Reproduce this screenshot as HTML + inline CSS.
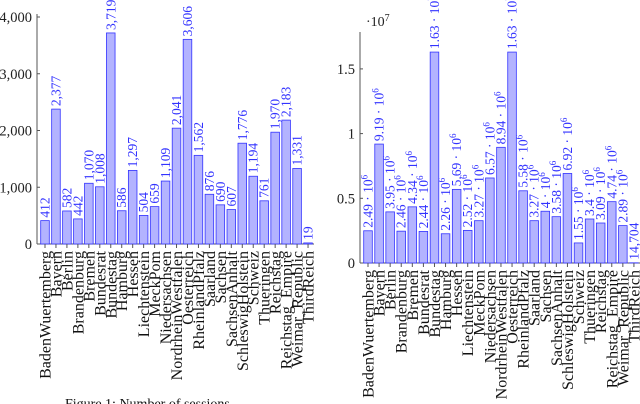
<!DOCTYPE html>
<html><head><meta charset="utf-8"><style>
body{margin:0;background:#fff;}
svg{display:block;font-family:"Liberation Serif",serif;}
</style></head><body>
<svg id="s" width="640" height="404"></svg>
<script>
const categories=["BadenWuertemberg","Bayern","Berlin","Brandenburg","Bremen","Bundesrat","Bundestag","Hamburg","Hessen","Liechtenstein","MeckPom","Niedersachsen","NordrheinWestfalen","Oesterreich","RheinlandPfalz","Saarland","Sachsen","SachsenAnhalt","SchleswigHolstein","Schweiz","Thueringen","Reichstag","Reichstag_Empire","Weimar_Republic","ThirdReich"];
const sessions=[412,2377,582,442,1070,1008,3719,586,1297,504,659,1109,2041,3606,1562,876,690,607,1776,1194,761,1970,2183,1331,19];
const sessionLabels=["412","2,377","582","442","1,070","1,008","3,719","586","1,297","504","659","1,109","2,041","3,606","1,562","876","690","607","1,776","1,194","761","1,970","2,183","1,331","19"];
const words=[2.49e6,9.19e6,3.95e6,2.46e6,4.34e6,2.44e6,1.63e7,2.26e6,5.69e6,2.52e6,3.27e6,6.57e6,8.94e6,1.63e7,5.58e6,3.27e6,4e6,3.58e6,6.92e6,1.55e6,3.4e6,3.09e6,4.74e6,2.89e6,14704];
const wordMant=["2.49","9.19","3.95","2.46","4.34","2.44","1.63","2.26","5.69","2.52","3.27","6.57","8.94","1.63","5.58","3.27","4","3.58","6.92","1.55","3.4","3.09","4.74","2.89","14,704"];
const wordExp=["6","6","6","6","6","6","7","6","6","6","6","6","6","7","6","6","6","6","6","6","6","6","6","6",""];
const leftTicks=[0,1000,2000,3000,4000];
const leftTickLabels=["0","1,000","2,000","3,000","4,000"];
const rightTicks=[0,0.5e7,1e7,1.5e7];
const rightTickLabels=["0","0.5","1","1.5"];

const NS="http://www.w3.org/2000/svg";
const svg=document.getElementById('s');
function mk(t,a,p){const e=document.createElementNS(NS,t);for(const k in a)e.setAttribute(k,a[k]);(p||svg).appendChild(e);return e;}

function chart(o){
  const g=mk('g',{});
  
  
  const y=v=>o.y0-v*o.scale;
  const x=i=>o.x0+i*o.step;
  const ax=mk('line',{x1:o.axX,y1:o.y0,x2:o.axX,y2:o.yTop,stroke:'#555','stroke-width':1},g);
  
  const bx=mk('line',{x1:o.axX,y1:o.y0,x2:o.axEnd,y2:o.y0,stroke:'#555','stroke-width':1},g);
  
  o.ticks.forEach((t,k)=>{
    mk('line',{x1:o.axX,y1:y(t),x2:o.axX+3,y2:y(t),stroke:'#555'},g);
    const tl=mk('text',{x:o.axX-5,y:y(t)+5,'text-anchor':'end','font-size':14.5,fill:'#222'},g);
    tl.textContent=o.tickLabels[k];
    
  });
  o.values.forEach((v,i)=>{
    const cx=x(i);
    const b=mk('rect',{x:cx-4.3,y:y(v),width:8.6,height:o.y0-y(v),fill:'#b3b3ff',stroke:'#3333ff','stroke-width':0.8},g);
    
    
    mk('line',{x1:cx,y1:o.y0,x2:cx,y2:o.y0+4,stroke:'#555'},g);
    const vl=mk('text',{transform:`translate(${cx+4.5},${y(v)-3}) rotate(-90)`,'font-size':13.5,fill:'#3333ff'},g);
    o.label(vl,i);
    
    
    const cl=mk('text',{transform:`translate(${cx+5.5},${o.y0+7}) rotate(-90)`,'text-anchor':'end','font-size':16,fill:'#111'},g);
    cl.textContent=categories[i];
    
    
  });
}
chart({name:'sessions-chart',values:sessions,ticks:leftTicks,tickLabels:leftTickLabels,x0:45,step:10.96,y0:244,scale:227/4000,axX:37,axEnd:314,yTop:14,
  label:(e,i)=>{e.textContent=sessionLabels[i];}});
chart({name:'words-chart',values:words,ticks:rightTicks,tickLabels:rightTickLabels,x0:368,step:11.08,y0:263,scale:64.7/0.5e7,axX:360,axEnd:640,yTop:32,
  label:(e,i)=>{e.textContent=wordExp[i]?wordMant[i]+' · 10':wordMant[i];
    if(wordExp[i]){const s=document.createElementNS(NS,'tspan');s.setAttribute('dy','-5');s.setAttribute('font-size','9');s.textContent=wordExp[i];e.appendChild(s);}}});
const m=mk('text',{x:366,y:26,'font-size':14,fill:'#222'});
m.textContent='·10';


const ms=mk('tspan',{dy:-5,'font-size':10},m);ms.textContent='7';
const cap=mk('text',{x:65,y:408,'font-size':14,fill:'#111'});
cap.textContent='Figure 1: Number of sessions';


</script>
</body></html>
